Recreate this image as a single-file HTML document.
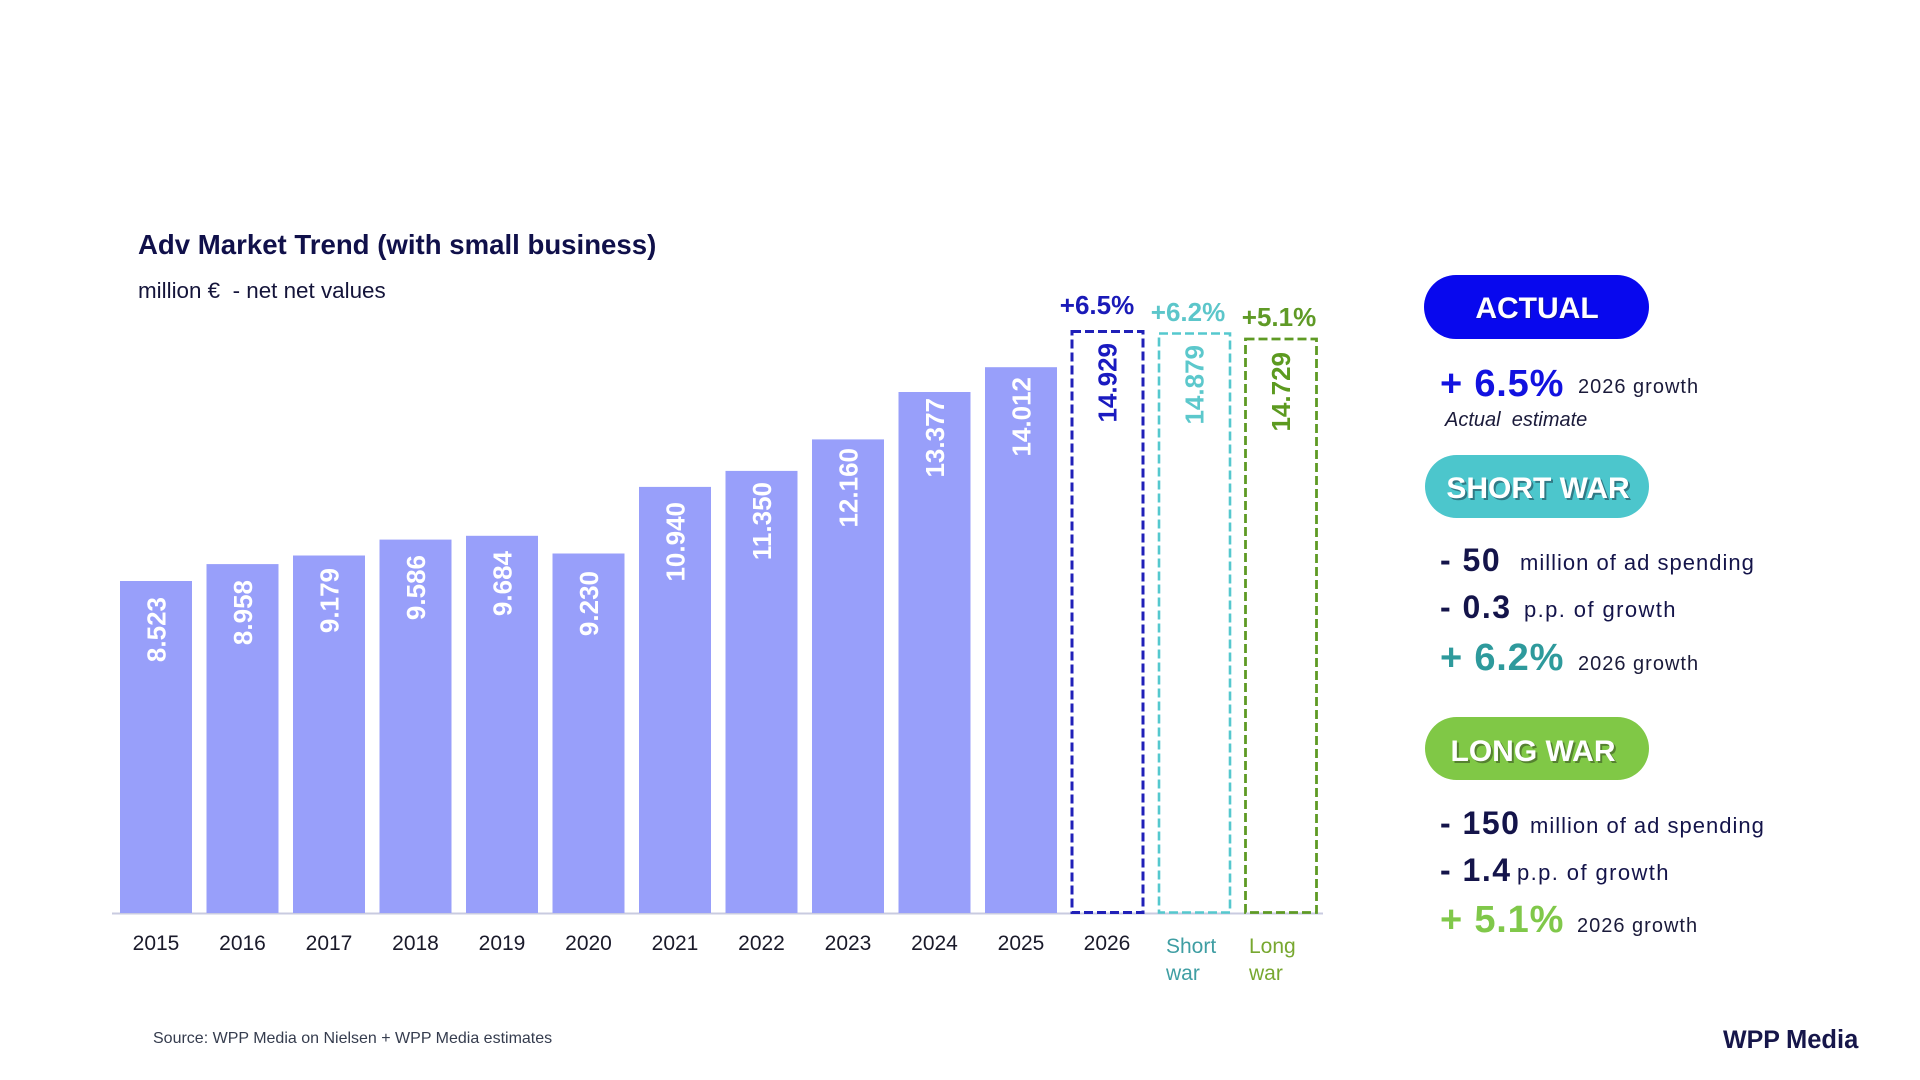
<!DOCTYPE html>
<html>
<head>
<meta charset="utf-8">
<style>
  html,body{margin:0;padding:0;background:#fff;}
  body{width:1920px;height:1080px;overflow:hidden;}
  svg{display:block;}
  text{font-family:"Liberation Sans", Arial, sans-serif;}
</style>
</head>
<body>
<svg width="1920" height="1080" viewBox="0 0 1920 1080" xmlns="http://www.w3.org/2000/svg">
  <rect width="1920" height="1080" fill="#ffffff"/>

  <!-- Title -->
  <text x="138" y="254" font-size="27.6" font-weight="bold" fill="#10104a">Adv Market Trend (with small business)</text>
  <text x="138" y="298" font-size="22.4" fill="#14143a" xml:space="preserve">million €  - net net values</text>

  <!-- Axis line -->
  <line x1="112" y1="913.5" x2="1323" y2="913.5" stroke="#c9cbe0" stroke-width="2"/>

  <!-- Bars -->
  <g fill="#989ffa">
    <rect x="120" y="581.0" width="72" height="332.0"/>
    <rect x="206.5" y="564.1" width="72" height="348.9"/>
    <rect x="293" y="555.5" width="72" height="357.5"/>
    <rect x="379.5" y="539.6" width="72" height="373.4"/>
    <rect x="466" y="535.8" width="72" height="377.2"/>
    <rect x="552.5" y="553.5" width="72" height="359.5"/>
    <rect x="639" y="486.9" width="72" height="426.1"/>
    <rect x="725.5" y="470.9" width="72" height="442.1"/>
    <rect x="812" y="439.4" width="72" height="473.6"/>
    <rect x="898.5" y="392.0" width="72" height="521.0"/>
    <rect x="985" y="367.2" width="72" height="545.8"/>
  </g>

  <!-- Bar value labels (rotated) -->
  <g font-size="26" font-weight="bold" fill="#ffffff" text-anchor="end">
    <text transform="translate(165.3,597) rotate(-90)">8.523</text>
    <text transform="translate(251.8,580) rotate(-90)">8.958</text>
    <text transform="translate(338.3,568) rotate(-90)">9.179</text>
    <text transform="translate(424.8,555) rotate(-90)">9.586</text>
    <text transform="translate(511.3,551) rotate(-90)">9.684</text>
    <text transform="translate(597.8,571) rotate(-90)">9.230</text>
    <text transform="translate(684.3,502) rotate(-90)">10.940</text>
    <text transform="translate(770.8,482) rotate(-90)">11.350</text>
    <text transform="translate(857.3,448) rotate(-90)">12.160</text>
    <text transform="translate(943.8,398) rotate(-90)">13.377</text>
    <text transform="translate(1030.3,377) rotate(-90)">14.012</text>
  </g>

  <!-- Dashed scenario boxes -->
  <rect x="1072" y="331.5" width="71" height="581" fill="none" stroke="#2020b8" stroke-width="3" stroke-dasharray="9 4"/>
  <rect x="1159" y="333.5" width="71" height="579" fill="none" stroke="#55c8ce" stroke-width="2.6" stroke-dasharray="9 4"/>
  <rect x="1245.5" y="339" width="71" height="573.5" fill="none" stroke="#5e9a24" stroke-width="2.8" stroke-dasharray="9 4"/>

  <g font-size="26" font-weight="bold" text-anchor="end">
    <text transform="translate(1116.5,343) rotate(-90)" fill="#1a1ac0">14.929</text>
    <text transform="translate(1203.5,345) rotate(-90)" fill="#5cc8cc">14.879</text>
    <text transform="translate(1290,352) rotate(-90)" fill="#5c9a20">14.729</text>
  </g>

  <!-- Growth labels above boxes -->
  <g font-size="26" font-weight="bold" text-anchor="middle">
    <text x="1097" y="314" fill="#1a1ab8">+6.5%</text>
    <text x="1188" y="321" fill="#5cc6ca">+6.2%</text>
    <text x="1279" y="326" fill="#5f9a26">+5.1%</text>
  </g>

  <!-- Year labels -->
  <g font-size="21" fill="#1a1a2a" text-anchor="middle">
    <text x="156" y="950">2015</text>
    <text x="242.5" y="950">2016</text>
    <text x="329" y="950">2017</text>
    <text x="415.5" y="950">2018</text>
    <text x="502" y="950">2019</text>
    <text x="588.5" y="950">2020</text>
    <text x="675" y="950">2021</text>
    <text x="761.5" y="950">2022</text>
    <text x="848" y="950">2023</text>
    <text x="934.5" y="950">2024</text>
    <text x="1021" y="950">2025</text>
    <text x="1107" y="950">2026</text>
  </g>
  <g font-size="21">
    <text x="1166" y="953" fill="#3f9ea3">Short</text>
    <text x="1166" y="980" fill="#3f9ea3">war</text>
    <text x="1249" y="953" fill="#78a830">Long</text>
    <text x="1249" y="980" fill="#78a830">war</text>
  </g>

  <!-- Source -->
  <text x="153" y="1043" font-size="16" fill="#353c4e">Source: WPP Media on Nielsen + WPP Media estimates</text>

  <!-- Logo -->
  <text x="1723" y="1048" font-size="25" font-weight="bold" fill="#16164a">WPP</text>
  <text x="1786" y="1048" font-size="25.5" font-weight="bold" fill="#16164a">Media</text>

  <!-- RIGHT PANEL -->
  <!-- ACTUAL -->
  <rect x="1424" y="275" width="225" height="64" rx="32" ry="32" fill="#0808ee"/>
  <text x="1538" y="319" font-size="30" font-weight="bold" fill="#1a1a60" fill-opacity="0.45" text-anchor="middle">ACTUAL</text>
  <text x="1537" y="318" font-size="30" font-weight="bold" fill="#ffffff" text-anchor="middle">ACTUAL</text>

  <text x="1440" y="396" font-size="38" font-weight="bold" fill="#1212e0" letter-spacing="0.8" xml:space="preserve">+ 6.5%</text>
  <text x="1578" y="393" font-size="20" fill="#1a1a3a" letter-spacing="1">2026 growth</text>
  <text x="1445" y="426" font-size="20" font-style="italic" fill="#1a1a3a" xml:space="preserve">Actual  estimate</text>

  <!-- SHORT WAR -->
  <rect x="1425" y="455" width="224" height="63" rx="31.5" ry="31.5" fill="#4cc6cc"/>
  <text x="1540" y="500" font-size="30" font-weight="bold" fill="#1a3a4a" fill-opacity="0.55" text-anchor="middle">SHORT WAR</text>
  <text x="1538" y="498" font-size="30" font-weight="bold" fill="#ffffff" text-anchor="middle">SHORT WAR</text>

  <text x="1440" y="571" font-size="32" font-weight="bold" fill="#14144a" letter-spacing="1.5" xml:space="preserve">- 50</text>
  <text x="1520" y="570" font-size="22" fill="#14144a" letter-spacing="1">million of ad spending</text>
  <text x="1440" y="618" font-size="32" font-weight="bold" fill="#14144a" letter-spacing="1.5" xml:space="preserve">- 0.3</text>
  <text x="1524" y="617" font-size="22" fill="#14144a" letter-spacing="1.4">p.p. of growth</text>
  <text x="1440" y="670" font-size="38" font-weight="bold" fill="#2e9a9c" letter-spacing="0.8" xml:space="preserve">+ 6.2%</text>
  <text x="1578" y="670" font-size="20" fill="#1a1a3a" letter-spacing="1">2026 growth</text>

  <!-- LONG WAR -->
  <rect x="1425" y="717" width="224" height="63" rx="31.5" ry="31.5" fill="#80c846"/>
  <text x="1535" y="763" font-size="30" font-weight="bold" fill="#2a3a1a" fill-opacity="0.5" text-anchor="middle">LONG WAR</text>
  <text x="1533" y="761" font-size="30" font-weight="bold" fill="#ffffff" text-anchor="middle">LONG WAR</text>

  <text x="1440" y="834" font-size="32" font-weight="bold" fill="#14144a" letter-spacing="1.5" xml:space="preserve">- 150</text>
  <text x="1530" y="833" font-size="22" fill="#14144a" letter-spacing="1">million of ad spending</text>
  <text x="1440" y="881" font-size="32" font-weight="bold" fill="#14144a" letter-spacing="1.5" xml:space="preserve">- 1.4</text>
  <text x="1517" y="880" font-size="22" fill="#14144a" letter-spacing="1.4">p.p. of growth</text>
  <text x="1440" y="932" font-size="38" font-weight="bold" fill="#80c84a" letter-spacing="0.8" xml:space="preserve">+ 5.1%</text>
  <text x="1577" y="932" font-size="20" fill="#1a1a3a" letter-spacing="1">2026 growth</text>
</svg>
</body>
</html>
